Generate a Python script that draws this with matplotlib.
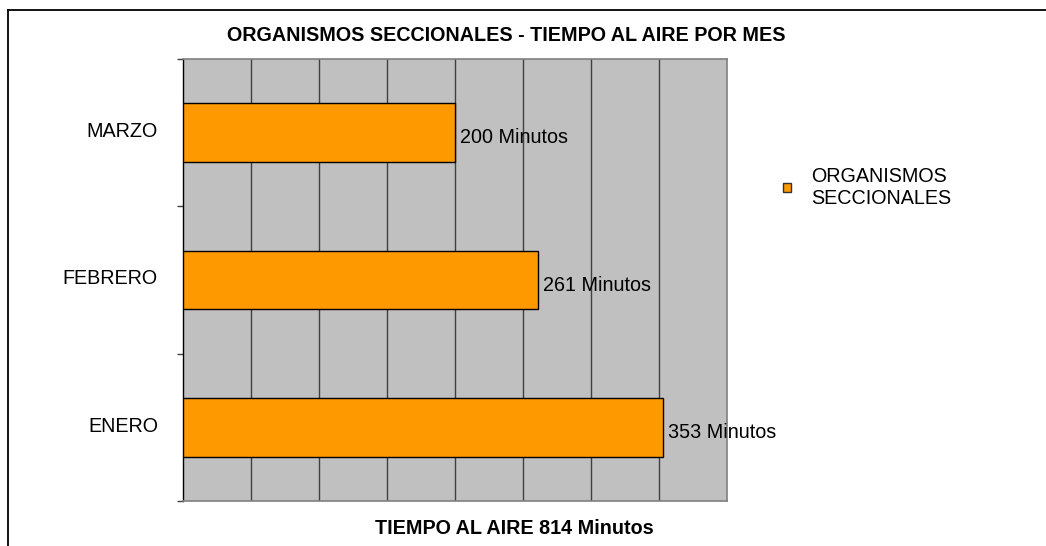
import matplotlib
matplotlib.use("Agg")
import matplotlib.pyplot as plt
from matplotlib.patches import Patch
from matplotlib.lines import Line2D
from matplotlib.transforms import ScaledTranslation

plt.rcParams['font.family'] = ['Liberation Sans', 'DejaVu Sans']

categories = ["ENERO", "FEBRERO", "MARZO"]
values = [353, 261, 200]
series_name = "ORGANISMOS\nSECCIONALES"
title = "ORGANISMOS SECCIONALES - TIEMPO AL AIRE POR MES"
xlabel = "TIEMPO AL AIRE 814 Minutos"
label_suffix = " Minutos"

FS = 14.2
fig = plt.figure(figsize=(10.46, 5.46), dpi=100)
ax = fig.add_axes([183/1046, 1-501/546, 544/1046, 442/546])
ax.set_facecolor('#C0C0C0')

ypos = list(range(len(categories)))
bars = ax.barh(ypos, values, height=0.4, color='#FF9900', edgecolor='black', linewidth=1.0, zorder=3)
for y, v in zip(ypos, values):
    ax.annotate(f"{v}{label_suffix}", xy=(v, y), xytext=(3.5, -7.6), textcoords='offset points',
                ha='left', va='baseline', fontsize=FS, zorder=5, annotation_clip=False)

ax.set_xlim(0, 400)
ax.set_ylim(-0.5, len(categories)-0.5)
ax.set_xticks(range(50, 400, 50))
ax.tick_params(axis='x', length=0, labelbottom=False)
ax.xaxis.grid(True, color='#404040', linewidth=1.0, zorder=1)
ax.set_axisbelow(True)

ax.set_yticks(ypos)
ax.set_yticklabels([])
ax.tick_params(axis='y', which='major', length=0)
ax.set_yticks([-0.5, 0.5, 1.5, 2.5], minor=True)
ax.tick_params(axis='y', which='minor', length=4, width=1, color='#404040', direction='out')

cat_trans = ax.get_yaxis_transform() + ScaledTranslation(-25/100, -4.2/100, fig.dpi_scale_trans)
for y, c in zip(ypos, categories):
    ax.text(0, y, c, transform=cat_trans, ha='right', va='baseline', fontsize=FS, clip_on=False)

for s in ['top', 'right', 'bottom']:
    ax.spines[s].set_color('#808080')
    ax.spines[s].set_linewidth(1.2)
ax.spines['left'].set_color('black')
ax.spines['left'].set_linewidth(1.0)

fig.text(506/1046, 1-40.7/546, title, ha='center', va='baseline', fontsize=FS, fontweight='bold')
fig.text(514.5/1046, 1-534.5/546, xlabel, ha='center', va='baseline', fontsize=FS, fontweight='bold')

handle = Patch(facecolor='#FF9900', edgecolor='#333333', linewidth=1.0)
fig.legend(handles=[handle], labels=[series_name], loc='center left',
           bbox_to_anchor=(783/1046, 1-187/546), frameon=False, fontsize=FS,
           handlelength=0.42, handleheight=0.27, handletextpad=1.0,
           borderpad=0, borderaxespad=0, labelspacing=0.2)

# outer frame (top and left edges visible)
fig.add_artist(Line2D([8/1046, 8/1046], [0, 1-10/546], transform=fig.transFigure, color='black', linewidth=1.3))
fig.add_artist(Line2D([8/1046, 1], [1-10/546, 1-10/546], transform=fig.transFigure, color='black', linewidth=1.3))

fig.savefig('out.png', dpi=100)
